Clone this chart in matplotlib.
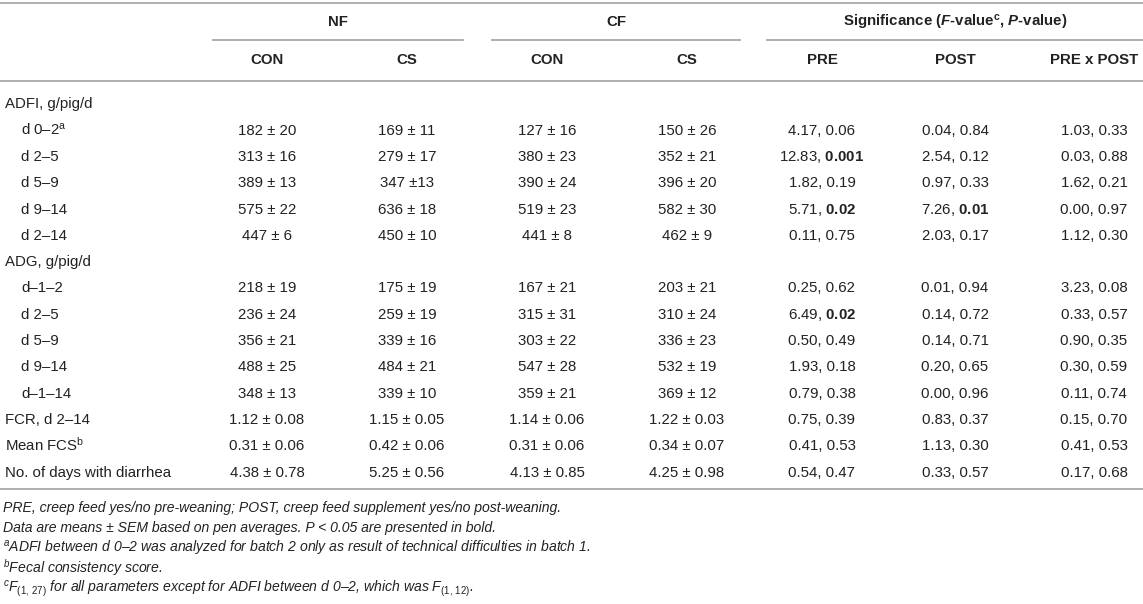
import matplotlib
matplotlib.use("Agg")
import matplotlib.pyplot as plt
from matplotlib.lines import Line2D

plt.rcParams['font.family'] = ['Liberation Sans', 'DejaVu Sans']
plt.rcParams['mathtext.fontset'] = 'custom'
plt.rcParams['mathtext.rm'] = 'Liberation Sans'
plt.rcParams['mathtext.it'] = 'Liberation Sans:italic'
plt.rcParams['mathtext.bf'] = 'Liberation Sans:bold'
plt.rcParams['mathtext.bfit'] = 'Liberation Sans:italic:bold'

# ---------------- data ----------------
group_headers = ["NF", "CF", r"Significance ($\mathbfit{F}$-value$^{\mathbf{c}}$, $\mathbfit{P}$-value)"]
col_headers = ["CON", "CS", "CON", "CS", "PRE", "POST", "PRE x POST"]

row_labels = ["ADFI, g/pig/d", r"d 0–2$^{\mathrm{a}}$", "d 2–5", "d 5–9", "d 9–14", "d 2–14",
              "ADG, g/pig/d", "d–1–2", "d 2–5", "d 5–9", "d 9–14", "d–1–14",
              "FCR, d 2–14", r"Mean FCS$^{\mathrm{b}}$", "No. of days with diarrhea"]
row_indent = [0, 1, 1, 1, 1, 1, 0, 1, 1, 1, 1, 1, 0, 0, 0]

nf_con = [None, "182 ± 20", "313 ± 16", "389 ± 13", "575 ± 22", "447 ± 6",
          None, "218 ± 19", "236 ± 24", "356 ± 21", "488 ± 25", "348 ± 13",
          "1.12 ± 0.08", "0.31 ± 0.06", "4.38 ± 0.78"]
nf_cs = [None, "169 ± 11", "279 ± 17", "347 ±13", "636 ± 18", "450 ± 10",
         None, "175 ± 19", "259 ± 19", "339 ± 16", "484 ± 21", "339 ± 10",
         "1.15 ± 0.05", "0.42 ± 0.06", "5.25 ± 0.56"]
cf_con = [None, "127 ± 16", "380 ± 23", "390 ± 24", "519 ± 23", "441 ± 8",
          None, "167 ± 21", "315 ± 31", "303 ± 22", "547 ± 28", "359 ± 21",
          "1.14 ± 0.06", "0.31 ± 0.06", "4.13 ± 0.85"]
cf_cs = [None, "150 ± 26", "352 ± 21", "396 ± 20", "582 ± 30", "462 ± 9",
         None, "203 ± 21", "310 ± 24", "336 ± 23", "532 ± 19", "369 ± 12",
         "1.22 ± 0.03", "0.34 ± 0.07", "4.25 ± 0.98"]

pre_f = [None, "4.17", "12.83", "1.82", "5.71", "0.11", None, "0.25", "6.49", "0.50", "1.93", "0.79", "0.75", "0.41", "0.54"]
pre_p = [None, "0.06", "0.001", "0.19", "0.02", "0.75", None, "0.62", "0.02", "0.49", "0.18", "0.38", "0.39", "0.53", "0.47"]
post_f = [None, "0.04", "2.54", "0.97", "7.26", "2.03", None, "0.01", "0.14", "0.14", "0.20", "0.00", "0.83", "1.13", "0.33"]
post_p = [None, "0.84", "0.12", "0.33", "0.01", "0.17", None, "0.94", "0.72", "0.71", "0.65", "0.96", "0.37", "0.30", "0.57"]
int_f = [None, "1.03", "0.03", "1.62", "0.00", "1.12", None, "3.23", "0.33", "0.90", "0.30", "0.11", "0.15", "0.41", "0.17"]
int_p = [None, "0.33", "0.88", "0.21", "0.97", "0.30", None, "0.08", "0.57", "0.35", "0.59", "0.74", "0.70", "0.53", "0.68"]

footnotes = [
    "PRE, creep feed yes/no pre-weaning; POST, creep feed supplement yes/no post-weaning.",
    "Data are means ± SEM based on pen averages. P < 0.05 are presented in bold.",
    r"$^{\mathit{a}}$ADFI between d 0–2 was analyzed for batch 2 only as result of technical difficulties in batch 1.",
    r"$^{\mathit{b}}$Fecal consistency score.",
    r"$^{\mathit{c}}F_{(1,\,27)}$ for all parameters except for ADFI between d 0–2, which was $F_{(1,\,12)}$.",
]

# ---------------- layout ----------------
W, H = 1143, 604
fig = plt.figure(figsize=(W / 100, H / 100), dpi=100)
fig.patch.set_facecolor("white")

TXT = "#222222"
RULE = "#a8a8a8"
FS = 10.8
FS_FN = 10.1


def fx(x):
    return x / W


def fy(y):
    return 1 - y / H


def hline(x0, x1, y, lw=1.3):
    fig.add_artist(Line2D([fx(x0), fx(x1)], [fy(y), fy(y)], color=RULE, lw=lw))


def put(x, y, s, ha="center", **kw):
    # y is the visual centre of capital letters; place on the baseline
    fs = kw.pop("fontsize", FS)
    off = fs * 100 / 72 * 0.36
    fig.text(fx(x), fy(y + off), s, ha=ha, va="baseline", color=TXT, fontsize=fs, **kw)


col_x = [267, 407, 547, 687, 822, 955, 1094]
group_spans = [(213, 463), (492, 740), (767, 1143)]

hline(0, W, 3)
for (a, b), g in zip(group_spans, group_headers):
    put((a + b) / 2, 21, g, fontweight="bold")
    hline(a, b, 40)
for x, h in zip(col_x, col_headers):
    put(x, 59, h, fontweight="bold")
hline(0, W, 81)

y0, dy = 103, 26.3
for i, lab in enumerate(row_labels):
    y = y0 + i * dy
    put(5 + 16 * row_indent[i], y, lab, ha="left")
    for cx, col in zip(col_x[:4], [nf_con, nf_cs, cf_con, cf_cs]):
        if col[i] is not None:
            put(cx, y, col[i])
    for cx, fv, pv in zip(col_x[4:], [pre_f, post_f, int_f], [pre_p, post_p, int_p]):
        if fv[i] is None:
            continue
        if float(pv[i]) < 0.05:
            s = fv[i] + r", $\mathbf{" + pv[i] + "}$"
        else:
            s = fv[i] + ", " + pv[i]
        put(cx, y, s)

y_rule = y0 + 14 * dy + 18
hline(0, W, y_rule)
for k, fn in enumerate(footnotes):
    put(3, y_rule + 18 + k * 20, fn, ha="left", fontsize=FS_FN, fontstyle="italic")

fig.savefig("out.png", dpi=100, facecolor="white")
